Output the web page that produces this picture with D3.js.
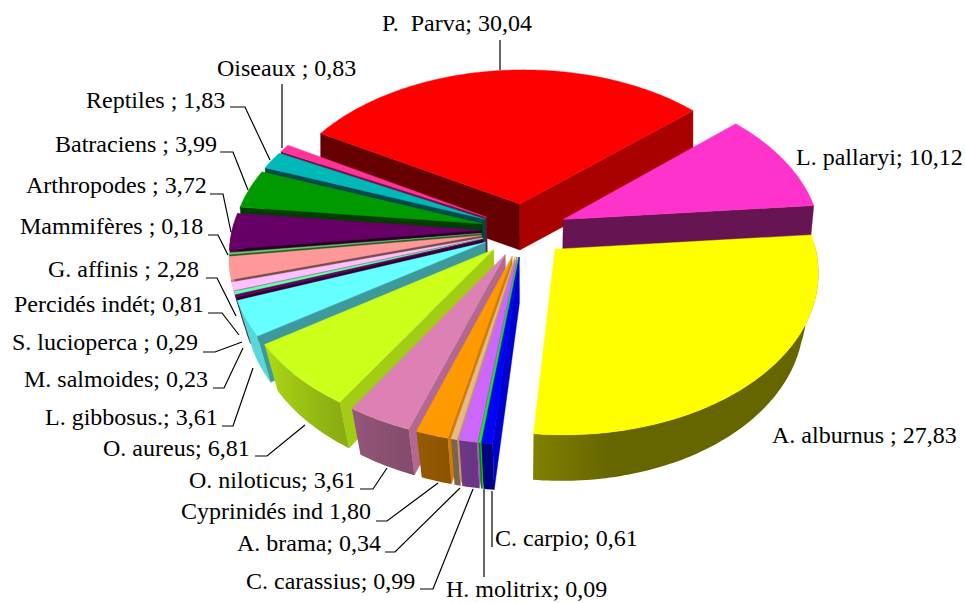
<!DOCTYPE html>
<html><head><meta charset="utf-8">
<style>html,body{margin:0;padding:0;background:#fff}svg{display:block}text{font-family:"Liberation Serif","Times New Roman",serif;font-size:24px;fill:#000;white-space:pre}</style>
<script src="https://cdn.jsdelivr.net/npm/d3@7/dist/d3.min.js"></script>
</head><body><svg id="c" width="965" height="603"></svg>
<script>
// ---- data ----
const categories=["P.  Parva","L. pallaryi","A. alburnus ","C. carpio","H. molitrix","C. carassius","A. brama","Cyprinidés ind","O. niloticus","O. aureus","L. gibbosus.","M. salmoides","S. lucioperca ","Percidés indét","G. affinis ","Mammifères ","Arthropodes ","Batraciens ","Reptiles ","Oiseaux "];
const values=[30.04,10.12,27.83,0.61,0.09,0.99,0.34,1.80,3.61,6.81,3.61,0.23,0.29,0.81,2.28,0.18,3.72,3.99,1.83,0.83];
const valueLabels=["30,04","10,12","27,83","0,61","0,09","0,99","0,34","1,80","3,61","6,81","3,61","0,23","0,29","0,81","2,28","0,18","3,72","3,99","1,83","0,83"];
const separators=["; ","; ","; ","; ","; ","; ","; "," ","; ","; ","; ","; ","; ","; ","; ","; ","; ","; ","; ","; "];
// ---- style ----
const colors=["#ff0000","#ff33cc","#ffff00","#0000ff","#00ff00","#cc66ff","#e6b88a","#ff9900","#dd80b3","#ccff19","#66ffff","#660066","#66ffaa","#ffc0ff","#ff9999","#66cc66","#660066","#009900","#00b8b8","#ff3399"];
// ---- layout ----
const labelX=[382,796,772,495,446,246,237,181,189,103,45,24,12,14,48,20,26,55,86,217];
const labelY=[31,165,443,546,597,589,551,519,488,456,425,387,350,312,277,234,193,152,108,76];
const leaders=[
 [[500,40],[500,70]],[],[],
 [[492,491],[492,547]],[[484,489],[484,577]],
 [[420,589],[433,589],[473,489]],[[385,552],[395,552],[460,488]],[[376,521],[387,521],[438,483]],
 [[360,489],[373,489],[387,468]],[[255,456],[267,456],[305,425]],[[222,426],[233,426],[253,368]],
 [[213,388],[224,388],[243,348]],[[203,352],[215,352],[242,342]],[[208,313],[222,313],[239,335]],
 [[206,278],[217,278],[236,316]],[[208,235],[218,235],[228,255]],[[210,194],[223,194],[231,232]],
 [[220,152],[233,152],[248,190]],[[230,107],[245,107],[270,160]],[[282,84],[282,148]]];
const hx=524,hy=230,R=253,K=157,persp=0.125,perspX=0.012,explode=0.17,depth=46;
const rad=Math.PI/180, startDeg=-59.7;

const xS=d3.scaleLinear().domain([-1,1]).range([hx-R,hx+R]);
const yS=d3.scaleLinear().domain([-1,1]).range([hy+K,hy-K]);
const wallShade=d3.scaleLinear().domain([100,122,140,175,240]).range([.82,.8,.65,.4,.4]).clamp(true);
const outerShade=d3.scaleLinear().domain([90,170,185,200,212,235,270]).range([.4,.4,.5,.6,.68,.85,.8]).clamp(true);
const shrink=d3.scaleLinear().domain([.4,-.4]).range([1,.95]).clamp(true);
function proj(X,Z,low){
  const w=1+persp*Z-perspX*X;
  const s=low?shrink(Z):1;
  return [xS(X/w*s), yS(Z/w)+(low?depth:0)];
}
function shade(c,f){const o=d3.rgb(c);return d3.rgb(o.r*f,o.g*f,o.b*f).formatHex();}
const line=d3.line();
const arcs=d3.pie().sort(null).value(d=>d).startAngle(startDeg*rad).endAngle(startDeg*rad+2*Math.PI)(values);
const slices=arcs.map((a,i)=>({...a,i,mid:(a.startAngle+a.endAngle)/2})).sort((p,q)=>Math.cos(q.mid)-Math.cos(p.mid));
const svg=d3.select("#c");
const defs=svg.append("defs");
function norm(d){return ((d%360)+360)%360;}
slices.forEach(s=>{
  const g=svg.append("g");
  const c=colors[s.i];
  const cx=explode*Math.sin(s.mid), cz=explode*Math.cos(s.mid);
  const rim=t=>[cx+Math.sin(t),cz+Math.cos(t)];
  const quad=(a,b,col)=>g.append("path")
    .attr("d",line([proj(a[0],a[1]),proj(b[0],b[1]),proj(b[0],b[1],true),proj(a[0],a[1],true)])+"Z")
    .attr("fill",col).attr("stroke",col).attr("stroke-width",.4);
  // radial walls facing the viewer
  const ns=norm(s.startAngle/rad-90), ne=norm(s.endAngle/rad+90);
  if(Math.cos(ns*rad)<0) quad([cx,cz],rim(s.startAngle),shade(c,wallShade(ns)));
  if(Math.cos(ne*rad)<0) quad([cx,cz],rim(s.endAngle),shade(c,wallShade(ne)));
  // outer curved wall, one polygon with a horizontal gradient
  const n=Math.max(2,Math.ceil((s.endAngle-s.startAngle)/rad));
  const vis=[];
  for(let k=0;k<=n;k++){
    const t=s.startAngle+(s.endAngle-s.startAngle)*k/n;
    if(Math.cos(t)<0.05) vis.push(t);
  }
  if(vis.length>1){
    const top=vis.map(t=>{const r=rim(t);return proj(r[0],r[1]);});
    const low=vis.map(t=>{const r=rim(t);return proj(r[0],r[1],true);}).reverse();
    const xs=top.map(p=>p[0]);
    const x0=d3.min(xs),x1=d3.max(xs);
    const id="o"+s.i;
    const grad=defs.append("linearGradient").attr("id",id).attr("gradientUnits","userSpaceOnUse")
      .attr("x1",x0).attr("x2",x1+.01).attr("y1",0).attr("y2",0);
    vis.map((t,k)=>({o:(xs[k]-x0)/(x1-x0+.01),t})).sort((a,b)=>a.o-b.o).forEach(e=>{
      grad.append("stop").attr("offset",e.o).attr("stop-color",shade(c,outerShade(norm(e.t/rad))));
    });
    g.append("path").attr("d",line(top.concat(low))+"Z").attr("fill","url(#"+id+")");
  }
  // top face
  const pts=[proj(cx,cz)];
  const m=Math.max(2,Math.ceil((s.endAngle-s.startAngle)/rad));
  for(let k=0;k<=m;k++){const r=rim(s.startAngle+(s.endAngle-s.startAngle)*k/m);pts.push(proj(r[0],r[1]));}
  g.append("path").attr("d",line(pts)+"Z").attr("fill",c).attr("stroke",c).attr("stroke-width",.4);
});
categories.forEach((n,i)=>{
  if(leaders[i].length) svg.append("path").attr("d",line(leaders[i])).attr("fill","none").attr("stroke","#000").attr("stroke-width",1.2);
  svg.append("text").attr("x",labelX[i]).attr("y",labelY[i]).text(n+separators[i]+valueLabels[i]);
});
</script></body></html>
